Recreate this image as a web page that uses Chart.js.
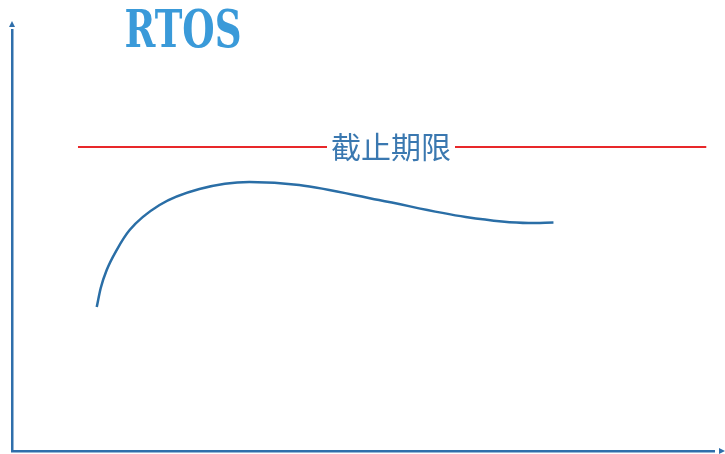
<!DOCTYPE html>
<html lang="zh">
<head>
  <meta charset="UTF-8">
  <title>RTOS</title>
  <script src="https://cdn.jsdelivr.net/npm/chart.js"></script>
  <style>
    body {
      margin: 0;
      background-color: #fff;
    }

    .chart-box {
      width: 725px;
      height: 454px;
    }
  </style>
</head>
<body>
  <div class="chart-box">
    <canvas id="rtos-chart"></canvas>
  </div>

  <script>
    // Response curve (time on x, load on y, both 0..100)
    const curveX = [12.07, 12.64, 13.49, 14.91, 16.76, 21.02, 26.7, 33.81, 40.91, 52.27, 64.63, 73.58, 77.13];
    const curveY = [34.2, 38.72, 42.99, 47.74, 52.49, 58.43, 62.23, 63.9, 63.18, 59.62, 55.58, 54.16, 54.28];

    // Deadline line
    const deadlineX = [9.4, 98.9];
    const deadlineY = 72.2;
    const deadlineLabel = "截止期限";
    const chartTitle = "RTOS";

    const axisColor = "#2f6fab";

    const curvePoints = curveX.map((x, i) => ({ x: x, y: curveY[i] }));
    const deadlinePoints = deadlineX.map((x) => ({ x: x, y: deadlineY }));

    // Arrows on the axes, the deadline label and the title
    const decorations = {
      id: "decorations",
      afterDraw(chart) {
        const ctx = chart.ctx;
        const area = chart.chartArea;
        const ys = chart.scales.y;

        ctx.save();
        ctx.fillStyle = axisColor;
        ctx.beginPath();
        ctx.moveTo(area.left - 3, area.top - 3);
        ctx.lineTo(area.left + 3, area.top - 3);
        ctx.lineTo(area.left, area.top - 9);
        ctx.closePath();
        ctx.fill();

        ctx.beginPath();
        ctx.moveTo(area.right + 5, area.bottom - 3);
        ctx.lineTo(area.right + 5, area.bottom + 3);
        ctx.lineTo(area.right + 11, area.bottom);
        ctx.closePath();
        ctx.fill();

        // deadline label on a white patch
        const lx = 391;
        const ly = ys.getPixelForValue(deadlineY);
        ctx.font = "30px 'Noto Sans CJK SC'";
        const w = ctx.measureText(deadlineLabel).width;
        ctx.fillStyle = "#fff";
        ctx.fillRect(lx - w / 2 - 4, ly - 18, w + 8, 36);
        ctx.fillStyle = "#3a78b0";
        ctx.textAlign = "center";
        ctx.textBaseline = "middle";
        ctx.fillText(deadlineLabel, lx, ly);

        // condensed serif title
        ctx.font = "bold 52px 'DejaVu Serif'";
        ctx.fillStyle = "#3a9ad9";
        ctx.textBaseline = "alphabetic";
        ctx.translate(183, 47);
        ctx.scale(0.715, 1);
        ctx.fillText(chartTitle, 0, 0);
        ctx.restore();
      }
    };

    new Chart(document.getElementById("rtos-chart"), {
      type: "line",
      data: {
        datasets: [
          {
            label: "curve",
            data: curvePoints,
            borderColor: "#2a6ea6",
            borderWidth: 2.5,
            pointRadius: 0,
            cubicInterpolationMode: "monotone",
            fill: false
          },
          {
            label: "deadline",
            data: deadlinePoints,
            borderColor: "#e8282a",
            borderWidth: 2,
            pointRadius: 0,
            fill: false
          }
        ]
      },
      options: {
        responsive: true,
        maintainAspectRatio: false,
        animation: false,
        layout: {
          padding: { left: 12, right: 11, top: 30, bottom: 3 }
        },
        plugins: {
          legend: { display: false },
          tooltip: { enabled: false }
        },
        scales: {
          x: {
            type: "linear",
            min: 0,
            max: 100,
            ticks: { display: false },
            grid: { display: false, drawTicks: false },
            border: { display: true, color: axisColor, width: 2.5 }
          },
          y: {
            type: "linear",
            min: 0,
            max: 100,
            ticks: { display: false },
            grid: { display: false, drawTicks: false },
            border: { display: true, color: axisColor, width: 2.5 }
          }
        }
      },
      plugins: [decorations]
    });
  </script>
</body>
</html>
